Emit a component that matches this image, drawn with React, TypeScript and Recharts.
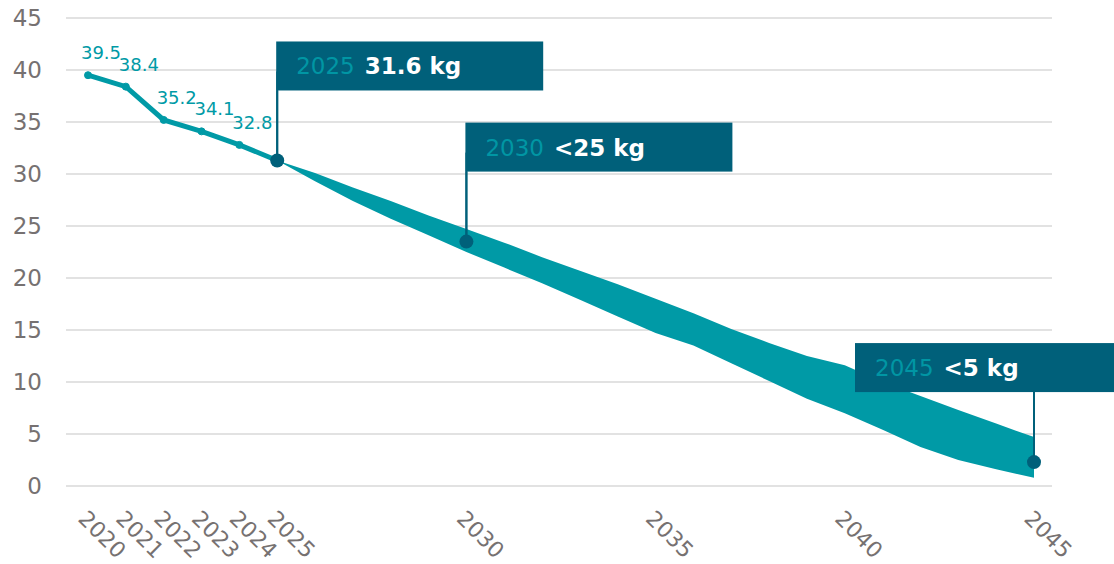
import {
  ComposedChart,
  Line,
  Area,
  Scatter,
  XAxis,
  YAxis,
  CartesianGrid,
} from "recharts";

// historical values 2020-2025
const histYears = [2020, 2021, 2022, 2023, 2024, 2025];
const histValues = [39.5, 38.4, 35.2, 34.1, 32.8, 31.3];

// projected corridor 2025-2045
const bandYears = [
  2025, 2026, 2027, 2028, 2029, 2030, 2031, 2032, 2033, 2034, 2035,
  2036, 2037, 2038, 2039, 2040, 2041, 2042, 2043, 2044, 2045,
];
const bandLow = [
  31.3, 29.3, 27.4, 25.7, 24.1, 22.5, 21.0, 19.5, 17.9, 16.3, 14.7,
  13.5, 11.8, 10.1, 8.4, 7.0, 5.4, 3.75, 2.5, 1.6, 0.8,
];
const bandHigh = [
  31.3, 30.1, 28.7, 27.4, 26.0, 24.7, 23.4, 22.0, 20.7, 19.4, 18.0,
  16.6, 15.1, 13.75, 12.5, 11.6, 10.0, 8.65, 7.3, 6.0, 4.7,
];

// callouts
const calloutYears = [2025, 2030, 2045];
const calloutValues = [31.3, 23.5, 2.3];
const calloutTexts = ["31.6 kg", "<25 kg", "<5 kg"];

const xTicks = [2020, 2021, 2022, 2023, 2024, 2025, 2030, 2035, 2040, 2045];
const yTicks = [0, 5, 10, 15, 20, 25, 30, 35, 40, 45];

const TEAL = "#009aa6";
const DARK = "#00607a";
const GRAY = "#767171";
const FONT = "'DejaVu Sans', Verdana, sans-serif";

const allYears = Array.from(new Set([...histYears, ...bandYears])).sort((a, b) => a - b);
const data = allYears.map((year) => {
  const hi = histYears.indexOf(year);
  const bi = bandYears.indexOf(year);
  return {
    year,
    hist: hi >= 0 ? histValues[hi] : null,
    band: bi >= 0 ? [bandLow[bi], bandHigh[bi]] : null,
  };
});

const callouts = calloutYears.map((year, i) => ({
  year,
  value: calloutValues[i],
  text: calloutTexts[i],
}));

const XTick = ({ x, payload }: any) => {
  const tx = x - 11;
  const ty = 520;
  return (
    <text
      x={tx}
      y={ty}
      transform={`rotate(45 ${tx} ${ty})`}
      fill={GRAY}
      fontSize={22}
      fontFamily={FONT}
      textAnchor="start"
    >
      {payload.value}
    </text>
  );
};

const HistLabel = (props: any) => {
  const { x, y, value, index } = props;
  if (value == null || index >= histYears.length - 1) return null;
  return (
    <text
      x={x + 13}
      y={y - 16}
      fill={TEAL}
      fontSize={18}
      fontFamily={FONT}
      textAnchor="middle"
    >
      {value}
    </text>
  );
};

const Callout = (props: any) => {
  const { cx, cy, payload } = props;
  const boxW = 267;
  const boxH = 49;
  const top = cy - 119;
  // the last box would run off the right side, so it hangs to the left
  const left = cx - 1 + boxW > 1114 ? cx - 179 : cx - 1;
  return (
    <g>
      <line x1={cx} y1={cy} x2={cx} y2={top + 30} stroke={DARK} strokeWidth={2} />
      <rect x={left} y={top} width={boxW} height={boxH} fill={DARK} />
      <line x1={cx} y1={top + boxH} x2={cx} y2={cy} stroke={DARK} strokeWidth={2} />
      <circle cx={cx} cy={cy} r={7} fill={DARK} />
      <text x={left + 20} y={top + 33} fontSize={23} fontFamily={FONT}>
        <tspan fill="#0096a4">{payload.year}</tspan>
        <tspan dx={10} fill="#ffffff" fontWeight="bold">
          {payload.text}
        </tspan>
      </text>
    </g>
  );
};

export default function App() {
  return (
    <div style={{ position: "absolute", left: 0, top: 0, width: 1114, height: 564, background: "#fff" }}>
      <ComposedChart
        width={1114}
        height={564}
        data={data}
        margin={{ top: 18, right: 62, left: 6, bottom: 8 }}
        style={{ fontFamily: FONT }}
      >
        <CartesianGrid vertical={false} stroke="#d9d9d9" strokeWidth={1.5} />
        <XAxis
          dataKey="year"
          type="number"
          domain={[2020, 2045]}
          ticks={xTicks}
          interval={0}
          padding={{ left: 22, right: 18 }}
          axisLine={false}
          tickLine={false}
          height={70}
          tick={<XTick />}
        />
        <YAxis
          domain={[0, 45]}
          ticks={yTicks}
          interval={0}
          axisLine={false}
          tickLine={false}
          tickSize={0}
          tickMargin={24}
          width={60}
          tick={{ fill: GRAY, fontSize: 23, fontFamily: FONT }}
        />
        <Area
          type="linear"
          dataKey="band"
          stroke="none"
          fill={TEAL}
          fillOpacity={1}
          isAnimationActive={false}
        />
        <Line
          type="linear"
          dataKey="hist"
          stroke={TEAL}
          strokeWidth={5}
          dot={{ r: 3.5, fill: TEAL, stroke: TEAL, strokeWidth: 1 }}
          label={<HistLabel />}
          isAnimationActive={false}
        />
        <Scatter
          data={callouts}
          dataKey="value"
          shape={<Callout />}
          isAnimationActive={false}
        />
      </ComposedChart>
    </div>
  );
}
